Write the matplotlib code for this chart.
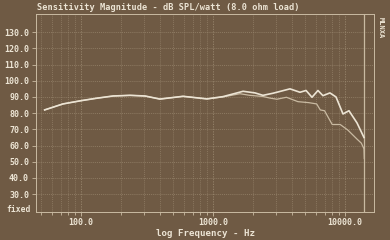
import matplotlib
matplotlib.use("Agg")
import matplotlib.pyplot as plt
import numpy as np

# ---- data ----
freq_upper = [53, 73, 100, 131, 175, 235, 305, 396, 593, 900, 1190, 1690, 2080,
              2390, 2850, 3830, 4560, 5070, 5625, 6240, 6810, 7690, 8550, 9660,
              10720, 12330, 13930]
db_upper = [82.0, 85.7, 87.7, 89.2, 90.6, 91.0, 90.6, 88.7, 90.4, 88.8, 90.2, 93.5, 92.5,
            91.0, 92.3, 95.0, 92.9, 94.0, 89.8, 94.0, 90.8, 92.5, 90.0, 79.5,
            81.5, 74.0, 65.0]

freq_lower = [53, 73, 100, 131, 175, 235, 305, 396, 593, 900, 1190, 1600, 1900,
              2390, 2700, 3050, 3600, 4400, 5300, 6100, 6500, 7000, 8000, 9200,
              10500, 12330, 13300, 13930, 14000]
db_lower = [82.0, 85.7, 87.7, 89.2, 90.6, 91.0, 90.6, 88.7, 90.4, 88.8, 90.0, 92.0, 91.0,
            90.3, 89.3, 88.6, 89.8, 87.1, 86.5, 85.7, 82.0, 81.5, 73.0, 73.0,
            69.6, 64.0, 61.5, 58.0, 52.0]

y_ticks = [30, 40, 50, 60, 70, 80, 90, 100, 110, 120, 130]
y_labels = ["30.0", "40.0", "50.0", "60.0", "70.0", "80.0", "90.0", "100.0",
            "110.0", "120.0", "130.0"]
x_ticks = [100, 1000, 10000]
x_labels = ["100.0", "1000.0", "10000.0"]
marker_freq = 13930

title = "Sensitivity Magnitude - dB SPL/watt (8.0 ohm load)"
xlabel = "log Frequency - Hz"

# ---- style ----
bg = "#6f5a44"
fg = "#ece4d4"
dim = "#c9baa2"
gridc = "#9f8d74"
font = {"family": "DejaVu Sans Mono", "weight": "bold"}

fig = plt.figure(figsize=(3.9, 2.4), dpi=100, facecolor=bg)
ax = fig.add_axes([36/390, 1-212/240, (374-36)/390, (212-14)/240])
ax.set_facecolor(bg)
ax.set_xscale("log")
ax.set_xlim(45.6, 16590)
ax.set_ylim(19, 141.2)

# grid
minor = [m * d for d in (10, 100, 1000, 10000) for m in range(2, 10)]
minor = [v for v in minor if 45.6 < v < 16590 and v not in (100, 1000, 10000)]
for v in minor:
    ax.axvline(v, color=gridc, lw=0.5, ls=(0, (1.5, 1.5)), alpha=0.75, zorder=1)
for v in x_ticks:
    ax.axvline(v, color=gridc, lw=0.6, ls=(0, (1.5, 1.5)), alpha=0.85, zorder=1)
for v in y_ticks:
    ax.axhline(v, color=gridc, lw=0.5, ls=(0, (1.5, 1.5)), alpha=0.85, zorder=1)
ax.axvline(marker_freq, color=dim, lw=0.9, zorder=2)

ax.plot(freq_lower, db_lower, color=dim, lw=0.9, zorder=3)
ax.plot(freq_upper, db_upper, color=fg, lw=1.2, zorder=4)

for s in ax.spines.values():
    s.set_color(dim)
    s.set_linewidth(0.7)

ax.set_yticks(y_ticks)
ax.set_yticklabels(y_labels, color=fg, fontsize=6.0, **font)
ax.set_xticks(x_ticks)
ax.set_xticklabels(x_labels, color=fg, fontsize=6.0, **font)
ax.minorticks_off()
ax.set_xticks(minor, minor=True)
ax.tick_params(axis="both", which="both", colors=dim, length=3, width=0.6, direction="out")
ax.tick_params(axis="x", which="major", pad=1.5)
ax.tick_params(axis="y", which="major", pad=2)
ax.tick_params(axis="x", which="minor", labelbottom=False, length=2)
for t in ax.get_xticklabels() + ax.get_yticklabels():
    t.set_color(fg)

fig.text(37/390, 1-8/240, title, color=fg, fontsize=6.25, ha="left", va="center", **font)
fig.text(206/390, 1-233/240, xlabel, color=fg, fontsize=6.6, ha="center", va="center", **font)
fig.text(31/390, 1-209/240, "fixed", color=fg, fontsize=5.8, ha="right", va="center", **font)
fig.text(381/390, 1-28/240, "MLNXA", color=fg, fontsize=5.0, ha="center", va="center",
         rotation=270, **font)

fig.savefig("out.png", dpi=100, facecolor=bg)
